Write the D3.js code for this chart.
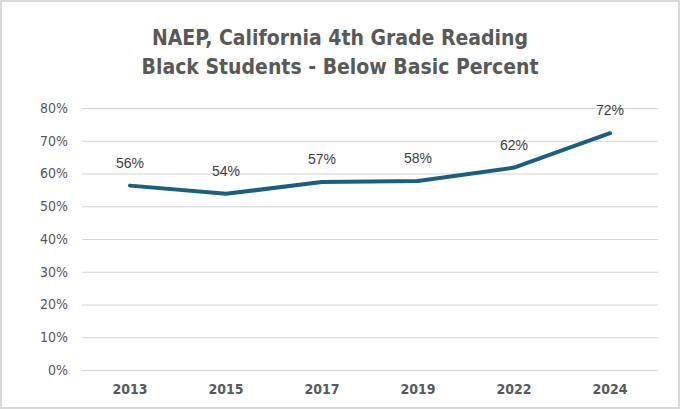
<!DOCTYPE html>
<html lang="en">
<head>
<meta charset="UTF-8">
<title>NAEP, California 4th Grade Reading</title>
<script src="https://d3js.org/d3.v7.min.js"></script>
<style>
  body { margin: 0; background: #fff; }
  svg { display: block; }
</style>
</head>
<body>
<div id="chart"></div>
<script>
const years = ["2013", "2015", "2017", "2019", "2022", "2024"];
const belowBasic = [56.3, 53.8, 57.4, 57.7, 61.8, 72.3];
const yTicks = [0, 10, 20, 30, 40, 50, 60, 70, 80];
const titleLines = ["NAEP, California 4th Grade Reading", "Black Students - Below Basic Percent"];

const W = 680, H = 409;
const margin = { top: 108, right: 22, bottom: 39, left: 82 };
const width = W - margin.left - margin.right;
const height = H - margin.top - margin.bottom;
const narrow = "'Liberation Sans Narrow', 'DejaVu Sans Condensed', 'Roboto', sans-serif";

const svg = d3.select("#chart").append("svg")
    .attr("width", W)
    .attr("height", H);

svg.append("rect")
    .attr("x", 1).attr("y", 1)
    .attr("width", W - 2).attr("height", H - 2)
    .attr("fill", "#fff")
    .attr("stroke", "#d9d9d9")
    .attr("stroke-width", 2);

svg.append("g")
    .selectAll("text")
    .data(titleLines)
    .enter()
    .append("text")
    .attr("x", W / 2)
    .attr("y", (d, i) => 45 + i * 29)
    .attr("text-anchor", "middle")
    .style("font-family", narrow)
    .style("font-weight", "bold")
    .style("font-size", "21px")
    .style("fill", "#595959")
    .text(d => d);

const g = svg.append("g")
    .attr("transform", `translate(${margin.left},${margin.top})`);

const x = d3.scaleBand().domain(years).range([0, width]);
const y = d3.scaleLinear().domain([0, 80]).range([height, 0]);

// gridlines + y labels
const yAxis = g.append("g")
    .call(d3.axisLeft(y).tickValues(yTicks).tickSize(-width).tickFormat(d => d + "%").tickPadding(14));
yAxis.select(".domain").remove();
yAxis.selectAll(".tick line").attr("stroke", "#d4d4d4").attr("stroke-width", 1.2);
yAxis.selectAll(".tick text")
    .style("font-family", narrow)
    .style("font-size", "14px")
    .style("fill", "#595959");

const xAxis = g.append("g")
    .attr("transform", `translate(0,${height})`)
    .call(d3.axisBottom(x).tickSize(0).tickPadding(14));
xAxis.select(".domain").remove();
xAxis.selectAll(".tick text")
    .style("font-family", narrow)
    .style("font-weight", "bold")
    .style("font-size", "14px")
    .style("fill", "#595959");

const pts = years.map((yr, i) => ({ yr, v: belowBasic[i] }));

const line = d3.line()
    .x(d => x(d.yr) + x.bandwidth() / 2)
    .y(d => y(d.v));

g.append("path")
    .datum(pts)
    .attr("fill", "none")
    .attr("stroke", "#1b5f7c")
    .attr("stroke-width", 4)
    .attr("stroke-linejoin", "round")
    .attr("stroke-linecap", "round")
    .attr("d", line);

g.selectAll(".lbl")
    .data(pts)
    .enter()
    .append("text")
    .attr("class", "lbl")
    .attr("x", d => x(d.yr) + x.bandwidth() / 2)
    .attr("y", d => y(d.v) - 18)
    .attr("text-anchor", "middle")
    .style("font-family", "'Liberation Sans', Arial, sans-serif")
    .style("font-size", "14px")
    .style("fill", "#404040")
    .text(d => Math.round(d.v) + "%");
</script>
</body>
</html>
